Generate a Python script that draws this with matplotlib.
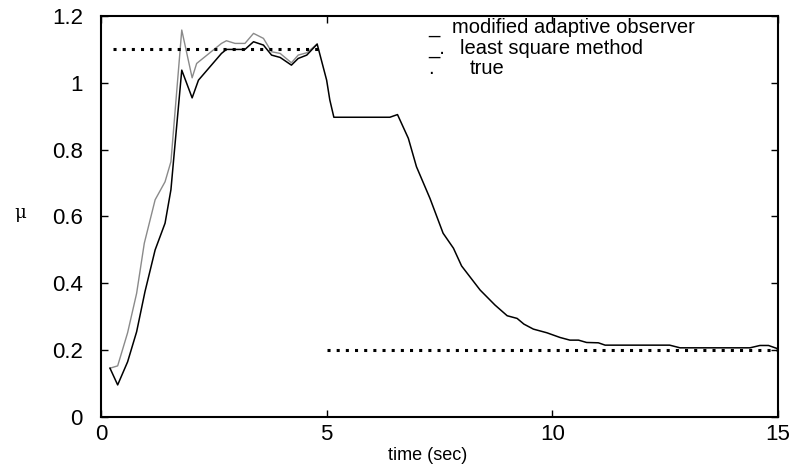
import matplotlib
matplotlib.use("Agg")
import matplotlib.pyplot as plt

# modified adaptive observer (black)
t_obs = [0.2, 0.37, 0.59, 0.79, 0.975, 1.2, 1.42, 1.55, 1.63, 1.79, 2.02, 2.16,
         2.67, 2.78, 3.19, 3.38, 3.6, 3.78, 3.97, 4.22, 4.37, 4.56, 4.79, 5.0,
         5.07, 5.16, 6.4, 6.57, 6.81, 6.99, 7.29, 7.58, 7.81, 7.99, 8.4, 8.73,
         9.0, 9.22, 9.37, 9.58, 9.88, 10.17, 10.39, 10.58, 10.76, 11.02, 11.17,
         11.72, 12.6, 12.83, 14.38, 14.6, 14.79, 15.0]
mu_obs = [0.146, 0.096, 0.165, 0.255, 0.375, 0.50, 0.58, 0.68, 0.80, 1.038, 0.955,
          1.008, 1.088, 1.10, 1.10, 1.123, 1.113, 1.083, 1.076, 1.053, 1.073,
          1.083, 1.116, 1.008, 0.949, 0.897, 0.897, 0.905, 0.834, 0.749, 0.654,
          0.55, 0.505, 0.452, 0.38, 0.335, 0.303, 0.295, 0.278, 0.263, 0.252,
          0.238, 0.230, 0.230, 0.223, 0.222, 0.215, 0.215, 0.215, 0.207, 0.207,
          0.214, 0.214, 0.204]

# least square method (gray)
t_ls = [0.2, 0.37, 0.59, 0.79, 0.96, 1.2, 1.42, 1.55, 1.79, 2.02, 2.12, 2.67,
        2.78, 2.97, 3.19, 3.38, 3.6, 3.78, 3.97, 4.22, 4.37, 4.56, 4.79]
mu_ls = [0.146, 0.153, 0.252, 0.37, 0.52, 0.65, 0.704, 0.764, 1.158, 1.015,
         1.058, 1.118, 1.126, 1.118, 1.118, 1.148, 1.133, 1.093, 1.088, 1.06,
         1.083, 1.09, 1.116]

# true value
t_true1 = [0.27, 4.85]
mu_true1 = [1.1, 1.1]
t_true2 = [5.0, 15.0]
mu_true2 = [0.2, 0.2]

legend_keys = ["_", "_.", "."]
legend_labels = ["modified adaptive observer", "least square method", "true"]

xticks = [0, 5, 10, 15]
yticks = [0, 0.2, 0.4, 0.6, 0.8, 1, 1.2]
yticklabels = ["0", "0.2", "0.4", "0.6", "0.8", "1", "1.2"]


def main():
    plt.rcParams["font.family"] = ["Liberation Sans", "DejaVu Sans"]

    fig = plt.figure(figsize=(7.95, 4.68), dpi=100)
    ax = fig.add_axes([0.127, 0.109, 0.8516, 0.8568])

    ax.plot(t_ls, mu_ls, color="#8a8a8a", lw=1.0)
    ax.plot(t_obs, mu_obs, color="black", lw=1.1)
    for tt, mm in [(t_true1, mu_true1), (t_true2, mu_true2)]:
        ax.plot(tt, mm, color="black", lw=2.2, dashes=(1, 2.0),
                dash_capstyle="butt")

    ax.set_xlim(0, 15)
    ax.set_ylim(0, 1.2)
    ax.set_xticks(xticks)
    ax.set_yticks(yticks)
    ax.set_yticklabels(yticklabels)
    ax.tick_params(direction="in", length=5, width=1, top=True, right=True,
                   labelsize=16)
    ax.tick_params(axis="x", pad=5)
    ax.tick_params(axis="y", pad=13)
    for sp in ax.spines.values():
        sp.set_linewidth(1.5)

    ax.set_xlabel("time (sec)", fontsize=13, va="center")
    ax.xaxis.set_label_coords(0.483, -0.095)
    ax.set_ylabel("\u03bc", fontsize=13, rotation=0, family="DejaVu Serif",
                  va="center", ha="center")
    ax.yaxis.set_label_coords(-0.12, 0.509)

    ys = [1.167, 1.104, 1.044]
    xs = [7.78, 7.95, 8.18]
    for key, lab, y, x in zip(legend_keys, legend_labels, ys, xs):
        ax.text(7.25, y, key, fontsize=14.5, va="center", ha="left")
        ax.text(x, y, lab, fontsize=14.5, va="center", ha="left")

    fig.savefig("out.png", dpi=100)


if __name__ == "__main__":
    main()
